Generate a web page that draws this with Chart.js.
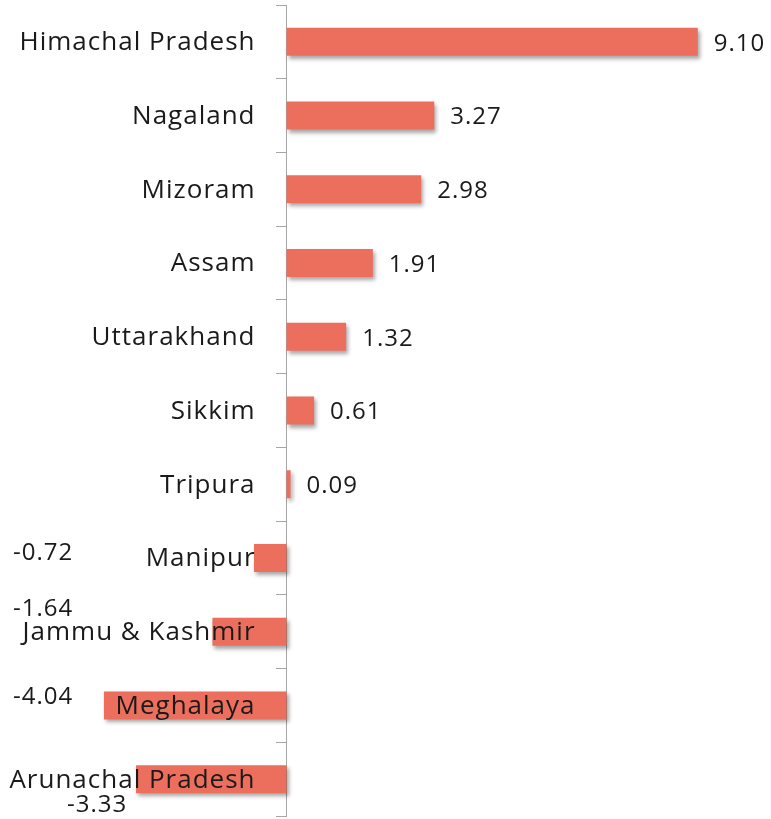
<!DOCTYPE html>
<html>
<head>
<meta charset="utf-8">
<script src="https://cdn.jsdelivr.net/npm/chart.js@4/dist/chart.umd.min.js"></script>
<style>
  html, body { margin: 0; padding: 0; background: #ffffff; }
  #wrap { width: 771px; height: 819px; position: relative; }
</style>
</head>
<body>
<div id="wrap"><canvas id="c"></canvas></div>
<script>
const categories = ["Himachal Pradesh", "Nagaland", "Mizoram", "Assam", "Uttarakhand", "Sikkim", "Tripura", "Manipur", "Jammu & Kashmir", "Meghalaya", "Arunachal Pradesh"];
const values = [9.10, 3.27, 2.98, 1.91, 1.32, 0.61, 0.09, -0.72, -1.64, -4.04, -3.33];
const valueLabels = ["9.10", "3.27", "2.98", "1.91", "1.32", "0.61", "0.09", "-0.72", "-1.64", "-4.04", "-3.33"];

// style: placement of the labels of negative bars (x in px from left, dy from bar centre)
const negLabelStyle = {7: {x: 13, dy: -5}, 8: {x: 13, dy: -23}, 9: {x: 13, dy: -8}, 10: {x: 67, dy: 26}};

const shadowPlugin = {
  id: 'barShadow',
  beforeDatasetsDraw(chart) {
    const ctx = chart.ctx;
    ctx.save();
    ctx.shadowColor = 'rgba(0,0,0,0.35)';
    ctx.shadowBlur = 4;
    ctx.shadowOffsetX = 2;
    ctx.shadowOffsetY = 3;
  },
  afterDatasetsDraw(chart) {
    chart.ctx.restore();
  }
};

const labelPlugin = {
  id: 'labels',
  afterDatasetsDraw(chart) {
    const ctx = chart.ctx;
    const meta = chart.getDatasetMeta(0);
    const zeroX = chart.scales.x.getPixelForValue(0);
    const yScale = chart.scales.y;
    ctx.save();
    ctx.fillStyle = '#1a1a1a';
    ctx.textBaseline = 'middle';
    if ('letterSpacing' in ctx) ctx.letterSpacing = '1px';
    // category labels, right-aligned next to the zero axis
    ctx.font = '26px "Open Sans"';
    ctx.textAlign = 'right';
    categories.forEach((c, i) => {
      ctx.fillText(c, zeroX - 31, yScale.getPixelForValue(i) + 1);
    });
    // value labels
    ctx.font = '24px "Open Sans"';
    ctx.textAlign = 'left';
    meta.data.forEach((bar, i) => {
      const v = values[i];
      if (v >= 0) {
        ctx.fillText(valueLabels[i], bar.x + 16, bar.y + 2);
      } else {
        const s = negLabelStyle[i] || {x: 13, dy: 0};
        ctx.fillText(valueLabels[i], s.x, bar.y + s.dy);
      }
    });
    ctx.restore();
  }
};

new Chart(document.getElementById('c'), {
  type: 'bar',
  data: {
    labels: categories,
    datasets: [{
      data: values,
      backgroundColor: '#EC6F5D',
      borderWidth: 0,
      categoryPercentage: 1.0,
      barPercentage: 0.38
    }]
  },
  plugins: [shadowPlugin, labelPlugin],
  options: {
    indexAxis: 'y',
    responsive: true,
    maintainAspectRatio: false,
    animation: false,
    layout: { padding: { top: 5, bottom: 3, left: 0, right: 0 } },
    plugins: { legend: { display: false }, tooltip: { enabled: false } },
    scales: {
      x: {
        display: false,
        min: -6.34,
        max: 10.72
      },
      y: {
        position: { x: 0 },
        grid: { offset: true, drawOnChartArea: false, drawTicks: true, tickLength: 10, color: '#a6a6a6', lineWidth: 1 },
        border: { display: true, color: '#a6a6a6', width: 1 },
        ticks: { display: false }
      }
    }
  }
});
</script>
</body>
</html>
